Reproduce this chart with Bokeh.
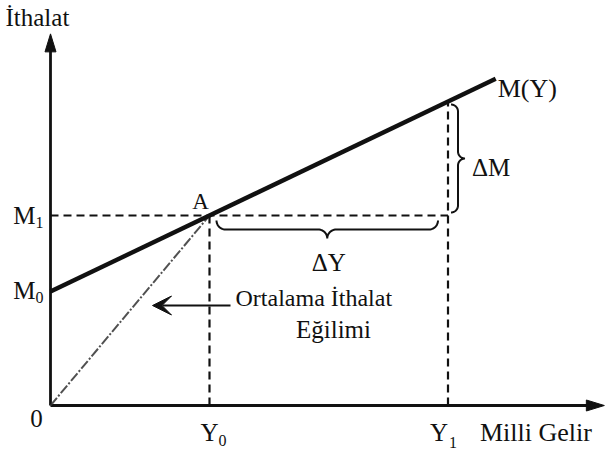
import numpy as np
from bokeh.plotting import figure
from bokeh.models import Range1d, Arrow, VeeHead
from bokeh.embed import file_html
from bokeh.resources import INLINE
from bokeh.core.properties import value

# Import function M(Y) = M0 + m*Y
M0 = 3.0          # autonomous imports
M1 = 5.0          # imports at income Y0
Y0 = 3.0          # initial income
Y1 = 7.5          # higher income
Y_LINE_END = 8.4  # where the M(Y) line stops
X_AXIS_END = 10.45
Y_AXIS_END = 9.78
m = (M1 - M0) / Y0


def M_of(y):
    return M0 + m * y


W, H = 606, 454
SX, SY = 53.0, 38.0          # screen pixels per data unit
ORIG_PX, ORIG_PY = 50, 405   # where the origin sits on the canvas

p = figure(width=W, height=H, output_backend="svg", toolbar_location=None,
           x_range=Range1d(-ORIG_PX / SX, (W - ORIG_PX) / SX),
           y_range=Range1d(-(H - ORIG_PY) / SY, ORIG_PY / SY),
           min_border=0)
p.axis.visible = False
p.grid.visible = False
p.outline_line_color = None
p.background_fill_color = "white"
p.border_fill_color = "white"

FONT = value("Liberation Serif")
INK = "#111111"


def px_x(d):
    return d / SX


def px_y(d):
    return d / SY


# axes drawn as arrows with slim filled heads
p.line([0, X_AXIS_END - px_x(8)], [0, 0], line_color=INK, line_width=2.8)
p.line([0, 0], [0, Y_AXIS_END - px_y(8)], line_color=INK, line_width=2.8)
p.patch([X_AXIS_END, X_AXIS_END - px_x(18), X_AXIS_END - px_x(18)],
        [0, px_y(5.5), -px_y(5.5)], fill_color=INK, line_color=INK)
p.patch([0, -px_x(5.5), px_x(5.5)],
        [Y_AXIS_END, Y_AXIS_END - px_y(18), Y_AXIS_END - px_y(18)],
        fill_color=INK, line_color=INK)

# dashed guide lines
DASH = "8 5"
p.line([0, Y1], [M1, M1], line_color=INK, line_width=2.2, line_dash=DASH)
p.line([Y0, Y0], [0, M1], line_color=INK, line_width=2.2, line_dash=DASH)
p.line([Y1, Y1], [0, M_of(Y1)], line_color=INK, line_width=2.2, line_dash=DASH)

# average propensity ray from the origin to A
p.line([0, Y0], [0, M1], line_color="#333333", line_width=2,
       line_dash="10 2 2 2", line_alpha=0.85)

# import function
p.line([0, Y_LINE_END], [M0, M_of(Y_LINE_END)], line_color=INK, line_width=4.4)


def brace(length, r, n=14):
    """Curly brace along u in [0, length], bulging to depth 2r in v."""
    t = np.linspace(0, np.pi / 2, n)
    half = length / 2
    u1 = r - r * np.cos(t)
    v1 = r * np.sin(t)
    u2 = half - r + r * np.sin(t)
    v2 = 2 * r - r * np.cos(t)
    u = np.concatenate([u1, u2])
    v = np.concatenate([v1, v2])
    u_full = np.concatenate([u, length - u[::-1]])
    v_full = np.concatenate([v, v[::-1]])
    return u_full, v_full


# brace under the dashed M1 line spanning Y0..Y1 (ΔY)
start_px, end_px = 7, 10
len_px = (Y1 - Y0) * SX - start_px - end_px
u, v = brace(len_px, 9)
p.line(Y0 + px_x(start_px + u), M1 - px_y(5 + v), line_color=INK, line_width=2)

# brace right of Y1 spanning M1..M(Y1) (ΔM)
len_py = (M_of(Y1) - M1) * SY - 6
u, v = brace(len_py, 7)
p.line(Y1 + px_x(3 + v), M1 + px_y(3 + u), line_color=INK, line_width=2)

# arrow pointing at the average propensity ray
p.add_layout(Arrow(x_start=Y0 + px_x(21), y_start=M1 - px_y(90),
                   x_end=Y0 - px_x(57), y_end=M1 - px_y(90),
                   line_color=INK, line_width=2.2,
                   end=VeeHead(size=19, fill_color=INK, line_color=INK)))


def label(x, y, txt, size=24, align="left", xo=0, yo=0):
    p.text([x], [y], text=[txt], text_font=FONT, text_font_size=value(f"{size}px"),
           text_align=align, text_baseline="middle", text_color=INK,
           x_offset=xo, y_offset=yo)


label(0, Y_AXIS_END, "İthalat", 25, "left", xo=-45, yo=-16)
label(0, M1, "M", 25, "right", xo=-15, yo=0)
label(0, M1, "1", 16, "left", xo=-15, yo=7)
label(0, M0, "M", 25, "right", xo=-15, yo=-1)
label(0, M0, "0", 16, "left", xo=-15, yo=6)
label(0, 0, "0", 25, "center", xo=-14, yo=13)
label(Y0, 0, "Y", 25, "center", xo=0, yo=27)
label(Y0, 0, "0", 16, "left", xo=9, yo=35)
label(Y1, 0, "Y", 25, "center", xo=-9, yo=27)
label(Y1, 0, "1", 16, "left", xo=1, yo=37)
label(Y1, 0, "Milli Gelir", 26, "left", xo=32, yo=27)
label(Y0, M1, "A", 23, "center", xo=-9, yo=-14)
label(Y_LINE_END, M_of(Y_LINE_END), "M(Y)", 26, "left", xo=2, yo=10)
label(Y1, (M1 + M_of(Y1)) / 2, "ΔM", 25, "left", xo=24, yo=9)
label((Y0 + Y1) / 2, M1, "ΔY", 25, "center", xo=0, yo=47)
label(Y0, M1, "Ortalama İthalat", 24, "left", xo=26, yo=82)
label(Y0, M1, "Eğilimi", 25, "center", xo=124, yo=114)

open("out.html", "w").write(file_html(p, INLINE))
